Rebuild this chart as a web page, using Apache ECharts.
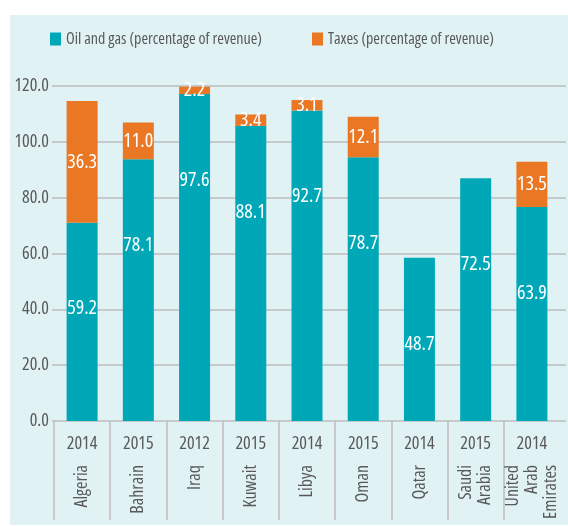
<!DOCTYPE html>
<html>
<head>
<meta charset="utf-8">
<script src="https://cdn.jsdelivr.net/npm/echarts@6/dist/echarts.min.js"></script>
<style>
html,body{margin:0;padding:0;background:#fff;}
#c{width:568px;height:526px;}
</style>
</head>
<body>
<div id="c"></div>
<script>
// ---- data ----
var countries = ['Algeria', 'Bahrain', 'Iraq', 'Kuwait', 'Libya', 'Oman', 'Qatar', 'Saudi\nArabia', 'United\nArab\nEmirates'];
var years = ['2014', '2015', '2012', '2015', '2014', '2015', '2014', '2015', '2014'];
var oilGas = [59.2, 78.1, 97.6, 88.1, 92.7, 78.7, 48.7, 72.5, 63.9];
var taxes = [36.3, 11.0, 2.2, 3.4, 3.1, 12.1, null, null, 13.5];
var tickLabels = ['0.0', '20.0', '40.0', '60.0', '80.0', '100.0', '120.0'];
var seriesNames = ['Oil and gas (percentage of revenue)', 'Taxes (percentage of revenue)'];

var FONT = "'Open Sans', sans-serif";
var FW = 'normal condensed';
var TEXT = '#58595b';
var TEAL = '#00a8b7';
var ORANGE = '#e97724';
var GRIDC = '#bcbcbc';

var chart = echarts.init(document.getElementById('c'), null, {renderer: 'canvas'});

var option = {
  backgroundColor: '#ffffff',
  animation: false,
  graphic: [{
    type: 'rect', z: -10, silent: true,
    shape: {x: 10, y: 15, width: 558, height: 510},
    style: {fill: '#e1f2f5'}
  }],
  legend: [{
    data: [seriesNames[0]], left: 45, top: 26,
    itemWidth: 11, itemHeight: 13, icon: 'rect',
    textStyle: {fontFamily: FONT, fontWeight: FW, fontSize: 16, color: TEXT}
  }, {
    data: [seriesNames[1]], left: 307, top: 26,
    itemWidth: 11, itemHeight: 13, icon: 'rect',
    textStyle: {fontFamily: FONT, fontWeight: FW, fontSize: 16, color: TEXT}
  }],
  grid: [
    {left: 54, right: 8, top: 86, bottom: 105, outerBoundsMode: 'none', containLabel: false},
    {left: 52, right: 2, top: 86, bottom: 105, outerBoundsMode: 'none', containLabel: false},
    {left: 54, right: 8, top: 421, bottom: 6, outerBoundsMode: 'none', containLabel: false}
  ],
  xAxis: [
    {
      gridIndex: 0, type: 'category', data: countries, position: 'bottom',
      axisLine: {show: false}, axisTick: {show: false},
      axisLabel: {rotate: 90, interval: 0, margin: 44, fontFamily: FONT, fontWeight: FW, fontSize: 18, lineHeight: 19, color: TEXT}
    },
    {
      gridIndex: 0, type: 'category', data: years, position: 'bottom',
      axisLine: {show: false}, axisTick: {show: false},
      axisLabel: {interval: 0, margin: 14, fontFamily: FONT, fontWeight: FW, fontSize: 18, color: TEXT}
    },
    {gridIndex: 1, type: 'value', show: false},
    {
      gridIndex: 2, type: 'category', data: countries, boundaryGap: true,
      axisLine: {show: false}, axisTick: {show: false}, axisLabel: {show: false},
      splitLine: {show: true, interval: 0, showMaxLine: false, lineStyle: {color: GRIDC, width: 1.5}}
    }
  ],
  yAxis: [
    {gridIndex: 0, type: 'value', min: 0, max: 100, show: false},
    {
      gridIndex: 1, type: 'value', min: 0, max: 120, interval: 20,
      axisLine: {show: false}, axisTick: {show: false},
      splitLine: {show: true, lineStyle: {color: GRIDC, width: 1.5}},
      axisLabel: {
        margin: 3, fontFamily: FONT, fontWeight: FW, fontSize: 18, color: TEXT,
        formatter: function (v, i) { return tickLabels[i]; }
      }
    },
    {gridIndex: 2, type: 'value', show: false}
  ],
  series: [
    {
      name: seriesNames[0], type: 'bar', stack: 'total', xAxisIndex: 0, yAxisIndex: 0,
      data: oilGas, barWidth: 31, itemStyle: {color: TEAL},
      label: {
        show: true, position: ['50%', 86], align: 'center', verticalAlign: 'middle',
        fontFamily: FONT, fontWeight: FW, fontSize: 20, color: '#ffffff',
        formatter: function (p) { return p.value.toFixed(1); }
      }
    },
    {
      name: seriesNames[1], type: 'bar', stack: 'total', xAxisIndex: 0, yAxisIndex: 0,
      data: taxes, barWidth: 31, itemStyle: {color: ORANGE},
      label: {
        show: true, position: 'inside',
        fontFamily: FONT, fontWeight: FW, fontSize: 20, color: '#ffffff',
        formatter: function (p) { return p.value == null ? '' : p.value.toFixed(1); }
      }
    }
  ]
};
chart.setOption(option);
</script>
</body>
</html>
